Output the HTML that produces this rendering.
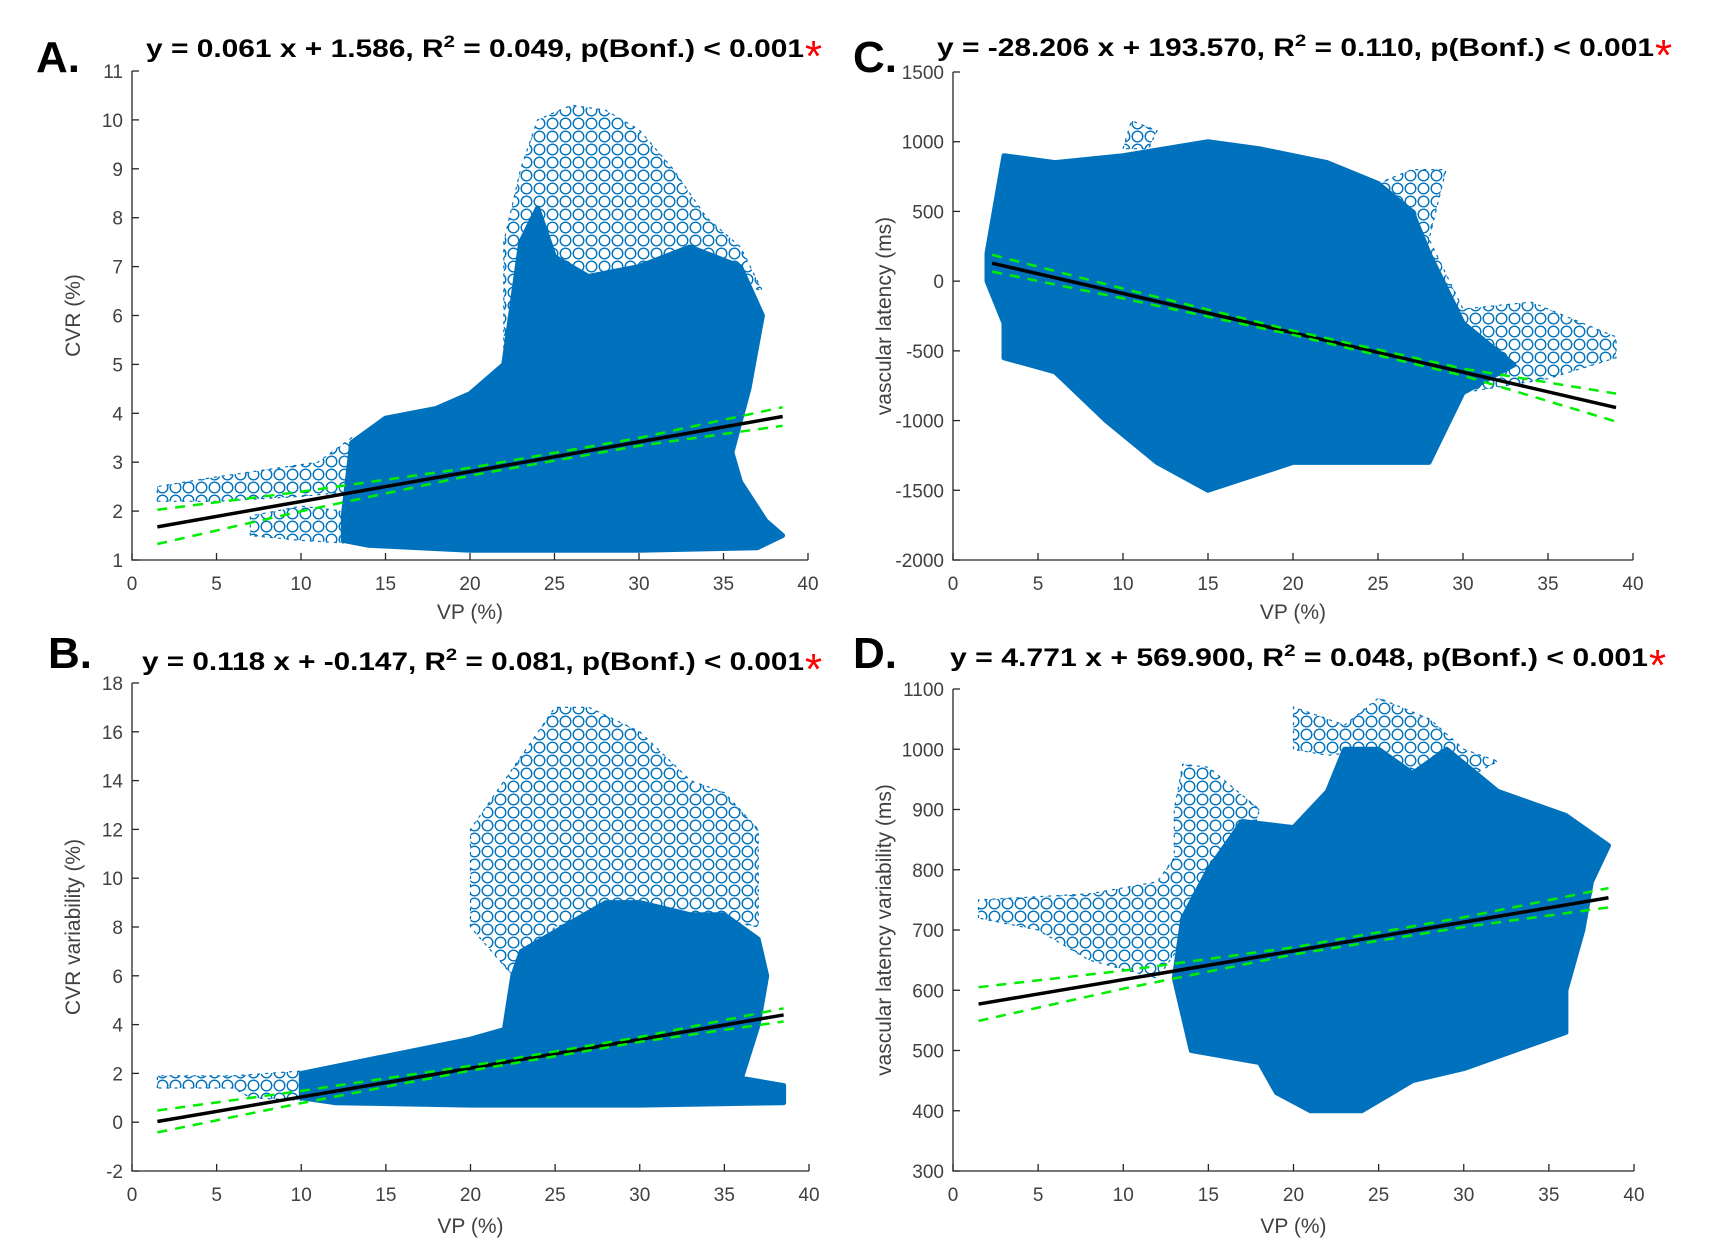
<!DOCTYPE html>
<html><head><meta charset="utf-8"><style>
body{margin:0;background:#fff;}
svg{display:block;}
text{font-family:"Liberation Sans",Arial,sans-serif;}
</style></head><body>
<svg id="fig" width="1714" height="1246" viewBox="0 0 1714 1246">
<defs>
<pattern id="circ" width="13" height="13" patternUnits="userSpaceOnUse">
<circle cx="6.5" cy="6.5" r="5.3" fill="none" stroke="#0072BD" stroke-width="1.4"/>
</pattern>
</defs>
</svg>
<script>
// ---- data ----
const xTicks = [0,5,10,15,20,25,30,35,40];
const yTicksA = [1,2,3,4,5,6,7,8,9,10,11];
const yTicksB = [-2,0,2,4,6,8,10,12,14,16,18];
const yTicksC = [-2000,-1500,-1000,-500,0,500,1000,1500];
const yTicksD = [300,400,500,600,700,800,900,1000,1100];
const slopes = [0.061, 0.118, -28.206, 4.771];
const intercepts = [1.586, -0.147, 193.570, 569.900];
const fitX_A = [1.5,10,20,30,38.5];
const fitX_B = [1.5,10,20,30,38.5];
const fitX_C = [2.3,10,20,30,39];
const fitX_D = [1.5,10,20,30,38.5];
const ciHalf_A = [0.35,0.2,0.08,0.08,0.19];
const ciHalf_B = [0.45,0.25,0.1,0.1,0.27];
const ciHalf_C = [60,35,15,25,100];
const ciHalf_D = [28,15,6,8,16];
const denseA = [[12.5,1.9],[13,3.4],[15,3.9],[18,4.1],[20,4.4],[22,5.0],[23,7.5],[24,8.2],[25,7.2],[27,6.8],[30,7.0],[33,7.4],[36,7.0],[37.3,6],[36.5,4.5],[35.5,3.2],[36,2.6],[37.5,1.8],[38.5,1.5],[37,1.25],[30,1.2],[20,1.2],[14,1.3],[12.5,1.4]];
const sparseA1 = [[1.5,2.2],[1.5,2.5],[5,2.7],[9,2.9],[11,3.0],[13,3.5],[13,2.4],[10,2.3],[5,2.2]];
const sparseA2 = [[22,5],[22,7.5],[23,9],[24,10],[26,10.3],[28,10.2],[30,9.8],[32,9],[34,8],[36,7.4],[37.3,6.5],[33,7.0],[28,6.8],[24,6.5]];
const sparseA3 = [[7,1.5],[7,1.9],[10,2.1],[12.5,2.0],[12.5,1.35],[10,1.4]];
const denseB = [[10,1.0],[10,2.0],[15,2.7],[20,3.4],[22,3.8],[22.5,6],[23,7],[26,8.2],[28,9],[30,9],[33,8.5],[35,8.5],[37,7.5],[37.5,6],[37,4],[36,1.8],[38.5,1.5],[38.5,0.8],[30,0.7],[20,0.7],[12,0.8]];
const sparseB1 = [[1.5,1.4],[1.5,1.9],[6,1.9],[10,2.1],[10,0.9],[7,1.0],[6,1.4]];
const sparseB2 = [[20,8],[20,12],[22,14],[24,16],[25,17],[27,17],[30,16],[33,14],[35,13.5],[37,12],[37,8],[30,9],[25,8],[22.5,6]];
const denseC = [[2,200],[3,900],[6,850],[10,900],[15,1000],[18,950],[22,850],[25,700],[27,500],[28,200],[30,-300],[33,-600],[30,-800],[28,-1300],[20,-1300],[15,-1500],[12,-1300],[9,-1000],[6,-650],[3,-550],[3,-300],[2,0]];
const sparseC1 = [[25,700],[27,800],[29,800],[28,300],[30,-200],[34,-150],[37,-300],[39,-400],[39,-550],[35,-700],[30,-800],[33,-600],[30,-300]];
const sparseC2 = [[10,950],[10.5,1150],[12,1080],[11.5,950]];
const denseD = [[13,620],[13.5,720],[15,800],[17,880],[20,870],[22,930],[23,1000],[25,1000],[27,960],[29,1000],[32,930],[36,890],[38.5,840],[37.5,780],[37,700],[36,600],[36,530],[33,500],[30,470],[27,450],[24,400],[21,400],[19,430],[18,480],[14,500],[13.5,560]];
const sparseD1 = [[1.5,720],[1.5,750],[8,760],[12,780],[13,820],[13,900],[13.5,975],[15,970],[18,900],[17,800],[14,700],[12,620],[8,650],[5,700]];
const sparseD2 = [[20,1000],[20,1070],[23,1040],[25,1085],[28,1050],[30,1000],[32,980],[30,950],[27,960],[25,1000],[22,990]];

const NS='http://www.w3.org/2000/svg';
const svg=document.getElementById('fig');
function el(tag,attrs,parent){const e=document.createElementNS(NS,tag);for(const k in attrs)e.setAttribute(k,attrs[k]);(parent||svg).appendChild(e);return e;}

const panels=[
 {id:'a',letter:'A.',lx:36,ly:72,x0:132,x1:808,yt:71,yb:560,ymin:1,ymax:11,ticks:yTicksA,ylabel:'CVR (%)',title:['y = 0.061 x + 1.586, R','2',' = 0.049, p(Bonf.) < 0.001'],tx:146,tw:658,tb:57,dense:denseA,sparse:[sparseA1,sparseA2,sparseA3],fx:fitX_A,ci:ciHalf_A,k:0,xl:619},
 {id:'b',letter:'B.',lx:48,ly:668,x0:132,x1:809,yt:683,yb:1171,ymin:-2,ymax:18,ticks:yTicksB,ylabel:'CVR variability (%)',title:['y = 0.118 x + -0.147, R','2',' = 0.081, p(Bonf.) < 0.001'],tx:142,tw:662,tb:670,dense:denseB,sparse:[sparseB1,sparseB2],fx:fitX_B,ci:ciHalf_B,k:1,xl:1233},
 {id:'c',letter:'C.',lx:853,ly:72,x0:953,x1:1633,yt:72,yb:560,ymin:-2000,ymax:1500,ticks:yTicksC,ylabel:'vascular latency (ms)',title:['y = -28.206 x + 193.570, R','2',' = 0.110, p(Bonf.) < 0.001'],tx:937,tw:717,tb:56,dense:denseC,sparse:[sparseC1,sparseC2],fx:fitX_C,ci:ciHalf_C,k:2,xl:619},
 {id:'d',letter:'D.',lx:853,ly:668,x0:953,x1:1634,yt:689,yb:1171,ymin:300,ymax:1100,ticks:yTicksD,ylabel:'vascular latency variability (ms)',title:['y = 4.771 x + 569.900, R','2',' = 0.048, p(Bonf.) < 0.001'],tx:950,tw:698,tb:666,dense:denseD,sparse:[sparseD1,sparseD2],fx:fitX_D,ci:ciHalf_D,k:3,xl:1233}
];

panels.forEach(p=>{
 const g=el('g',{});
 
 
 const sx=v=>p.x0+(v-0)/40*(p.x1-p.x0);
 const sy=v=>p.yb-(v-p.ymin)/(p.ymax-p.ymin)*(p.yb-p.yt);
 const poly=pts=>pts.map(q=>sx(q[0]).toFixed(1)+','+sy(q[1]).toFixed(1)).join(' ');
 p.sparse.forEach((s,i)=>{
  const e=el('polygon',{points:poly(s),fill:'url(#circ)',stroke:'#0072BD','stroke-width':'1.2','stroke-dasharray':'3 5'},g);
  
  
 });
 const d=el('polygon',{points:poly(p.dense),fill:'#0072BD',stroke:'#0072BD','stroke-width':'5','stroke-linejoin':'round'},g);
 
 
 const m=slopes[p.k],b=intercepts[p.k];
 const fit=el('line',{x1:sx(p.fx[0]),y1:sy(m*p.fx[0]+b),x2:sx(p.fx[p.fx.length-1]),y2:sy(m*p.fx[p.fx.length-1]+b),stroke:'#000','stroke-width':'3.5'},g);
 
 
 [1,-1].forEach(sgn=>{
  const pts=p.fx.map((x,i)=>sx(x).toFixed(1)+','+sy(m*x+b+sgn*p.ci[i]).toFixed(1)).join(' ');
  const c=el('polyline',{points:pts,fill:'none',stroke:'#00EE00','stroke-width':'2.5','stroke-dasharray':'10 8'},g);
  
  
 });
 const ax=el('path',{d:`M${p.x0},${p.yt} V${p.yb} H${p.x1}`,fill:'none',stroke:'#262626','stroke-width':'1.3'},g);
 
 
 xTicks.forEach(t=>{
  const X=sx(t);
  el('line',{x1:X,y1:p.yb,x2:X,y2:p.yb-7,stroke:'#262626','stroke-width':'1.3'},g);
  const tl=el('text',{x:X,y:p.yb+30,'font-size':'19','text-anchor':'middle',fill:'#404040'},g);
  tl.textContent=t;
  
  
 });
 p.ticks.forEach(t=>{
  const Y=sy(t);
  el('line',{x1:p.x0,y1:Y,x2:p.x0+7,y2:Y,stroke:'#262626','stroke-width':'1.3'},g);
  const tl=el('text',{x:p.x0-9,y:Y+7,'font-size':'19','text-anchor':'end',fill:'#404040'},g);
  tl.textContent=t;
  
  
 });
 const xlab=el('text',{x:(p.x0+p.x1)/2,y:p.xl,'font-size':'21','text-anchor':'middle',fill:'#404040'},g);
 xlab.textContent='VP (%)';
 
 
 const yc=(p.yt+p.yb)/2, yx=p.x0-(p.id==='a'||p.id==='b'?52:62);
 const ylab=el('text',{x:yx,y:yc,'font-size':'21','text-anchor':'middle',fill:'#404040',transform:`rotate(-90 ${yx} ${yc})`},g);
 ylab.textContent=p.ylabel;
 
 
 const tt=el('text',{x:p.tx,y:p.tb,'font-size':'25','font-weight':'bold',fill:'#000',textLength:p.tw,lengthAdjust:'spacingAndGlyphs'},g);
 
 
 const s1=el('tspan',{},tt);s1.textContent=p.title[0];
 const s2=el('tspan',{dy:'-10','font-size':'17'},tt);s2.textContent=p.title[1];
 const s3=el('tspan',{dy:'10'},tt);s3.textContent=p.title[2];
 const ast=el('text',{x:p.tx+p.tw+1,y:p.tb+14,'font-size':'44',fill:'#ff0000'},g);
 ast.textContent='*';
 
 
 const lt=el('text',{x:p.lx,y:p.ly,'font-size':'44','font-weight':'bold',fill:'#000'},g);
 lt.textContent=p.letter;
 
 
});
</script>
</body></html>
